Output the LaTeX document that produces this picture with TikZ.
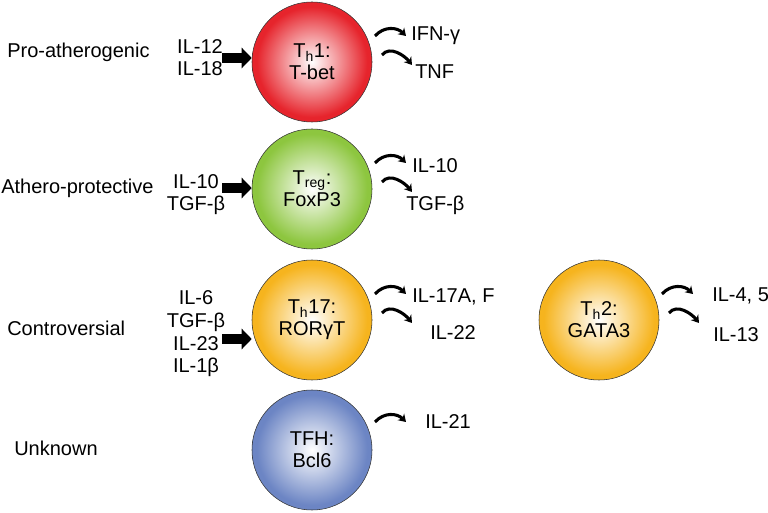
\documentclass[tikz,border=0pt]{standalone}
\usepackage{fontspec}
\setmainfont{Liberation Sans}
\usetikzlibrary{arrows.meta}

\definecolor{thred}{RGB}{230,36,44}
\definecolor{tregreen}{RGB}{141,198,63}
\definecolor{thyellow}{RGB}{246,180,30}
\definecolor{tfhblue}{RGB}{108,133,196}
\pgfdeclareradialshading{redcell}{\pgfpoint{0bp}{0bp}}{color(0bp)=(white);color(23bp)=(thred);color(50bp)=(thred)}
\pgfdeclareradialshading{greencell}{\pgfpoint{0bp}{0bp}}{color(0bp)=(white);color(23bp)=(tregreen);color(50bp)=(tregreen)}
\pgfdeclareradialshading{yellowcell}{\pgfpoint{0bp}{0bp}}{color(0bp)=(white);color(23bp)=(thyellow);color(50bp)=(thyellow)}
\pgfdeclareradialshading{bluecell}{\pgfpoint{0bp}{0bp}}{color(0bp)=(white);color(23bp)=(tfhblue);color(50bp)=(tfhblue)}

\begin{document}
\begin{tikzpicture}[x=.75pt,y=-.75pt,
	every node/.style={font=\fontsize{15}{16.5}\selectfont,inner sep=0pt},
	cell/.style={circle,draw=black!80,line width=.4pt,minimum size=90pt,align=center,shading=#1},
	blockarrow/.style={line width=7.5pt,-{Triangle[length=7.5pt,width=15pt]}},
	secrete/.style={line width=2.3pt,-{Stealth[length=5.5pt,width=7pt]}}]
		\useasboundingbox (0,0) rectangle (768,513);
		\node[anchor=west] (pro) at (7,52) {Pro-atherogenic};
		\node[anchor=west] (protect) at (1,188) {Athero-protective};
		\node[anchor=west] (contro) at (7,328) {Controversial};
		\node[anchor=west] (unknown) at (14,448) {Unknown};
		\node[cell=redcell] (th1) at (312,62) {T\textsubscript{h}1:\\T-bet};
		\node[cell=greencell] (treg) at (312,189) {T\textsubscript{reg}:\\FoxP3};
		\node[cell=yellowcell] (th17) at (312,320) {T\textsubscript{h}17:\\RORγT};
		\node[cell=yellowcell] (th2) at (599,320) {T\textsubscript{h}2:\\GATA3};
		\node[cell=bluecell] (tfh) at (312,450) {TFH:\\Bcl6};
		\node[align=center] (in1) at (200,58) {IL-12\\IL-18};
		\node[align=center] (in2) at (196,195) {IL-10\\TGF-β};
		\node[align=center,font=\fontsize{15}{17}\selectfont] (in3) at (196,334) {IL-6\\TGF-β\\IL-23\\IL-1β};
		\coordinate (a1) at (222,58);
		\coordinate (a2) at (222,188);
		\coordinate (a3) at (222,339);
		\draw[blockarrow] (a1) -- (a1 -| th1.west);
		\draw[blockarrow] (a2) -- (a2 -| treg.west);
		\draw[blockarrow] (a3) -- (a3 -| th17.west);
		\foreach \c in {th1,treg,th17,th2}
		{
			\draw[secrete] ([shift={(63,-26)}]\c.center) .. controls +(9,-10) and +(-9,-9) .. ([shift={(94,-26)}]\c.center);
			\draw[secrete] ([shift={(70,-7)}]\c.center) .. controls +(8,-10) and +(-7,-9) .. ([shift={(100,3)}]\c.center);
		}
		\draw[secrete] ([shift={(63,-28)}]tfh.center) .. controls +(9,-10) and +(-9,-9) .. ([shift={(94,-28)}]tfh.center);
		\node[anchor=west] (ifn) at (411,36) {IFN-γ};
		\node[anchor=west] (tnf) at (415,72) {TNF};
		\node[anchor=west] (il10) at (412,166) {IL-10};
		\node[anchor=west] (tgfb) at (406,205) {TGF-β};
		\node[anchor=west] (il17) at (412,297) {IL-17A, F};
		\node[anchor=west] (il22) at (430,333) {IL-22};
		\node[anchor=west] (il4) at (712,296) {IL-4, 5};
		\node[anchor=west] (il13) at (713,335) {IL-13};
		\node[anchor=west] (il21) at (425,422) {IL-21};
	\end{tikzpicture}
\end{document}
